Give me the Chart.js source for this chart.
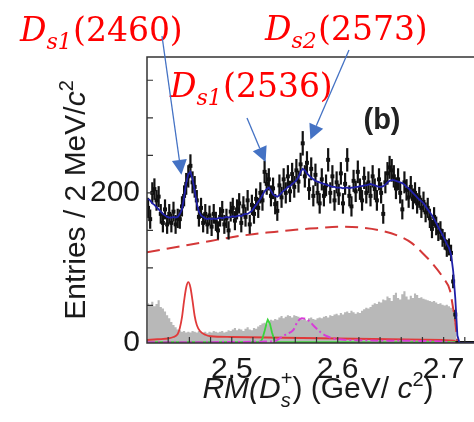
<!DOCTYPE html>
<html>
<head>
<meta charset="utf-8">
<script src="https://cdn.jsdelivr.net/npm/chart.js@4"></script>
<style>
  html, body { margin: 0; padding: 0; background: #fff; overflow: hidden; }
  canvas { display: block; }
</style>
</head>
<body>
<canvas id="myChart" width="490" height="422"></canvas>
<script>
// recoil mass spectrum, 2 MeV bins from 2.42 GeV
const binWidth = 0.002;
const xMin = 2.42;
const xMax = 2.74;

const counts = [
  180,165,200,205,190,195,172,160,178,158,
  172,160,175,158,166,165,182,196,212,222,
  236,214,208,190,168,180,160,172,158,170,
  155,172,162,150,168,176,158,166,150,175,
  180,163,178,186,160,182,168,190,158,184,
  172,192,180,200,190,228,212,218,196,206,
  185,176,210,194,218,200,222,202,225,208,
  230,215,238,266,222,240,205,232,196,224,
  200,186,218,196,210,244,200,222,190,214,
  198,226,186,212,244,196,182,216,202,228,
  205,190,220,200,214,196,222,205,190,218,
  200,172,214,226,234,230,222,206,218,200,
  178,214,204,194,208,192,200,186,194,180,
  188,174,180,166,152,168,156,148,150,140,
  136,126,128,120,82,38,0,
  0,0,0,0,0,0,0,0,0,0,0,0,0
];

// total fit
const fitTotal = [
  192,190,186,184,181,178,175,172,170,168,
  167,167,168,167,168,172,178,194,213,225,
  228,218,203,186,175,170,168,166,165,166,
  165,166,165,166,167,166,167,168,167,168,
  169,168,169,170,169,171,172,172,174,176,
  180,184,188,192,197,202,205,207,203,198,
  196,195,197,200,203,205,208,209,212,214,
  217,221,228,232,230,226,223,220,218,216,
  215,214,213,212,211,210,209,208,208,207,
  207,207,206,207,207,206,207,207,208,208,
  209,209,210,210,211,212,211,210,209,208,
  208,209,211,214,216,217,217,216,215,214,
  213,211,208,206,203,200,197,194,191,189,
  186,182,178,174,170,165,160,154,149,144,
  138,132,127,118,96,60,10,
  0,0,0,0,0,0,0,0,0,0,0,0,0
];

// grey histogram (wrong-sign / sideband events)
const sideband = [
  53,50,55,49,52,57,48,46,42,37,
  33,28,24,21,18,17,15,16,14,15,
  14,16,15,14,16,15,14,15,13,15,
  14,16,15,14,15,16,14,15,17,16,
  18,20,17,19,18,16,19,21,18,17,
  20,19,22,24,26,27,25,29,31,30,
  32,31,34,36,33,35,37,36,34,37,
  36,35,33,31,32,30,33,34,32,31,
  33,34,33,35,36,34,37,36,38,39,
  37,40,38,41,42,40,43,41,39,41,
  40,43,45,47,46,48,51,53,52,55,
  54,58,57,62,60,56,64,67,60,58,
  65,69,62,58,63,60,66,64,60,61,
  59,58,57,56,55,56,54,52,53,51,
  50,51,49,47,44,27,4,
  0,0,0,0,0,0,0,0,0,0,0,0,0
];

// smooth fit components
const bkgMass  = [2.42, 2.44, 2.46, 2.48, 2.50, 2.52, 2.54, 2.56, 2.58, 2.60, 2.62, 2.64, 2.66, 2.67, 2.68, 2.69, 2.70, 2.706, 2.709, 2.711, 2.7125, 2.713, 2.74];
const bkgFit   = [121, 126, 131, 136, 141, 145, 148, 151, 153, 155, 154, 150, 141, 133, 120, 105, 86, 70, 46, 28, 8, 0, 0];

const ds2460Mass = [2.42, 2.43, 2.44, 2.445, 2.449, 2.451, 2.453, 2.455, 2.457, 2.459, 2.461, 2.463, 2.465, 2.467, 2.470, 2.475, 2.48, 2.50, 2.55, 2.60, 2.65, 2.70, 2.710, 2.713, 2.74];
const ds2460Fit  = [4, 5, 6, 8, 12, 20, 34, 56, 74, 81, 74, 56, 36, 24, 16, 11, 9, 8, 7, 6, 5, 4, 3, 0, 0];

const ds2536Mass = [2.42, 2.527, 2.529, 2.531, 2.533, 2.534, 2.536, 2.538, 2.540, 2.542, 2.74];
const ds2536Fit  = [1, 1, 6, 16, 27, 31, 26, 14, 5, 1, 1];

const ds2573Mass = [2.42, 2.54, 2.546, 2.552, 2.558, 2.562, 2.566, 2.570, 2.574, 2.578, 2.584, 2.590, 2.596, 2.61, 2.65, 2.70, 2.712, 2.74];
const ds2573Fit  = [1, 2, 7, 12, 17, 28, 33, 32, 28, 22, 14, 9, 6, 4, 3, 2, 0, 0];

const xTickLabels = [2.5, 2.6, 2.7];
const yTickLabels = [0, 200];

const binCenters = counts.map((_, i) => +(xMin + binWidth * (i + 0.5)).toFixed(4));
const pairs = (xs, ys) => ys.map((y, i) => ({ x: xs[i], y: y }));

const sans = '"Liberation Sans", Arial, sans-serif';
const serif = '"DejaVu Serif", serif';

// draws text made of several pieces (sub/superscripts)
function drawRuns(ctx, x, y, runs, color) {
  ctx.fillStyle = color;
  ctx.textBaseline = 'alphabetic';
  ctx.textAlign = 'left';
  let cx = x;
  runs.forEach(r => {
    if (r.stack) {
      let w = 0;
      r.stack.forEach(s => {
        ctx.font = s.font;
        ctx.fillText(s.text, cx + (s.dx || 0), y + (s.dy || 0));
        w = Math.max(w, ctx.measureText(s.text).width + (s.dx || 0));
      });
      cx += w;
    } else {
      ctx.font = r.font;
      ctx.fillText(r.text, cx, y + (r.dy || 0));
      cx += ctx.measureText(r.text).width;
    }
  });
  return cx - x;
}
function runsWidth(ctx, runs) {
  let w = 0;
  runs.forEach(r => {
    if (r.stack) {
      w += Math.max(...r.stack.map(s => { ctx.font = s.font; return ctx.measureText(s.text).width + (s.dx || 0); }));
    } else { ctx.font = r.font; w += ctx.measureText(r.text).width; }
  });
  return w;
}

function arrow(ctx, x0, y0, x1, y1) {
  const ang = Math.atan2(y1 - y0, x1 - x0);
  const len = 15, half = 7.5;
  const bx = x1 - len * Math.cos(ang), by = y1 - len * Math.sin(ang);
  ctx.strokeStyle = '#4472c4';
  ctx.fillStyle = '#4472c4';
  ctx.lineWidth = 1.3;
  ctx.beginPath();
  ctx.moveTo(x0, y0);
  ctx.lineTo(bx, by);
  ctx.stroke();
  ctx.beginPath();
  ctx.moveTo(x1, y1);
  ctx.lineTo(bx + half * Math.sin(ang), by - half * Math.cos(ang));
  ctx.lineTo(bx - half * Math.sin(ang), by + half * Math.cos(ang));
  ctx.closePath();
  ctx.fill();
}

const decorations = {
  id: 'decorations',
  afterDatasetDraw(chart, args) {
    if (args.meta.label !== 'Data') return;
    const ctx = chart.ctx;
    const ys = chart.scales.y;
    ctx.save();
    ctx.strokeStyle = '#111';
    ctx.lineWidth = 2.2;
    args.meta.data.forEach((pt, i) => {
      const n = counts[i];
      if (n <= 0) return;
      const e = Math.sqrt(n);
      ctx.beginPath();
      ctx.moveTo(pt.x, ys.getPixelForValue(n - e));
      ctx.lineTo(pt.x, ys.getPixelForValue(n + e));
      ctx.stroke();
    });
    ctx.restore();
  },
  afterDraw(chart) {
    const ctx = chart.ctx;
    const { left, right, top, bottom } = chart.chartArea;
    const xs = chart.scales.x, ys = chart.scales.y;
    ctx.save();

    // frame and inward ticks
    ctx.strokeStyle = '#333';
    ctx.lineWidth = 1.5;
    ctx.strokeRect(left, top, right - left, bottom - top);
    ctx.lineWidth = 1.2;
    ctx.beginPath();
    for (let v = 50; v < ys.max; v += 50) {
      const py = ys.getPixelForValue(v);
      ctx.moveTo(left, py); ctx.lineTo(left + 6, py);
    }
    for (let k = 1; xMin + 0.02 * k < xMax; k++) {
      const px = xs.getPixelForValue(xMin + 0.02 * k);
      ctx.moveTo(px, bottom); ctx.lineTo(px, bottom - 6);
    }
    ctx.stroke();

    // axis titles
    const big = '30px ' + sans, bigIt = 'italic 30px ' + sans, small = '20px ' + sans, smallIt = 'italic 20px ' + sans;
    const xTitle = [
      { text: 'RM(D', font: bigIt },
      { stack: [{ text: '+', font: small, dy: -13 }, { text: 's', font: smallIt, dy: 9 }] },
      { text: ') (GeV/ ', font: big },
      { text: 'c', font: bigIt },
      { text: '2', font: small, dy: -12 },
      { text: ')', font: big }
    ];
    const wx = runsWidth(ctx, xTitle);
    drawRuns(ctx, 318 - wx / 2, 398, xTitle, '#1a1a1a');

    const yTitle = [
      { text: 'Entries / 2 MeV/', font: big },
      { text: 'c', font: bigIt },
      { text: '2', font: small, dy: -12 }
    ];
    const wy = runsWidth(ctx, yTitle);
    ctx.save();
    ctx.translate(85, 200);
    ctx.rotate(-Math.PI / 2);
    drawRuns(ctx, -wy / 2, 0, yTitle, '#1a1a1a');
    ctx.restore();

    // panel tag
    ctx.font = 'bold 29px ' + sans;
    ctx.fillStyle = '#222';
    ctx.textAlign = 'center';
    ctx.textBaseline = 'alphabetic';
    ctx.fillText('(b)', 382, 129);

    // state labels and arrows
    const lab = (x, y, sub, mass) => drawRuns(ctx, x, y, [
      { text: 'D', font: 'italic 33px ' + serif },
      { text: sub, font: 'italic 22px ' + serif, dy: 8, },
      { text: ' ', font: '4px ' + serif },
      { text: '(' + mass + ')', font: '33px ' + serif }
    ], '#ff0000');
    lab(20, 41, 's1', '2460');
    lab(170, 97, 's1', '2536');
    lab(265, 40, 's2', '2573');

    arrow(ctx, 162, 36, xs.getPixelForValue(2.4525), ys.getPixelForValue(224));
    arrow(ctx, 247, 118, xs.getPixelForValue(2.5319), ys.getPixelForValue(241));
    arrow(ctx, 349, 50, xs.getPixelForValue(2.5742), ys.getPixelForValue(271));
    ctx.restore();
  }
};

const lineBase = { pointRadius: 0, fill: false, parsing: true };

new Chart(document.getElementById('myChart'), {
  type: 'line',
  data: {
    datasets: [
      { ...lineBase, label: 'Total fit', order: 0, data: pairs(binCenters, fitTotal),
        borderColor: '#2020a8', borderWidth: 1.8 },
      { label: 'Data', order: 1, data: pairs(binCenters, counts), showLine: false,
        pointStyle: 'rect', pointRadius: 2.8, pointBackgroundColor: '#111', pointBorderWidth: 0 },
      { ...lineBase, label: 'Ds2(2573)', order: 2, data: pairs(ds2573Mass, ds2573Fit),
        borderColor: '#d83cd8', borderWidth: 2, borderDash: [8, 3, 2, 3], cubicInterpolationMode: 'monotone' },
      { ...lineBase, label: 'Ds1(2536)', order: 3, data: pairs(ds2536Mass, ds2536Fit),
        borderColor: '#3ad43a', borderWidth: 1.8 },
      { ...lineBase, label: 'Ds1(2460)', order: 4, data: pairs(ds2460Mass, ds2460Fit),
        borderColor: '#e03a3a', borderWidth: 1.8, cubicInterpolationMode: 'monotone' },
      { ...lineBase, label: 'Background', order: 5, data: pairs(bkgMass, bkgFit),
        borderColor: '#d43838', borderWidth: 2, borderDash: [13, 7], cubicInterpolationMode: 'monotone' },
      { label: 'Sideband', order: 6, data: pairs(binCenters, sideband), stepped: 'middle',
        pointRadius: 0, borderWidth: 0, fill: 'origin', backgroundColor: '#b8b8b8' }
    ]
  },
  options: {
    responsive: false,
    animation: false,
    events: [],
    layout: { padding: { left: 0, top: 57, right: 4, bottom: 0 } },
    plugins: { legend: { display: false }, tooltip: { enabled: false } },
    scales: {
      x: {
        type: 'linear', min: xMin, max: xMax,
        grid: { display: false, drawTicks: false },
        border: { display: false },
        afterBuildTicks: s => { s.ticks = xTickLabels.map(v => ({ value: v })); },
        afterFit: s => { s.height = 79; },
        ticks: { padding: 9, color: '#1a1a1a', font: { family: sans, size: 30 }, maxRotation: 0,
          callback: v => v.toFixed(1) }
      },
      y: {
        min: 0, max: 381,
        grid: { display: false, drawTicks: false },
        border: { display: false },
        afterBuildTicks: s => { s.ticks = yTickLabels.map(v => ({ value: v })); },
        afterFit: s => { s.width = 147; },
        ticks: { padding: 7, color: '#1a1a1a', font: { family: sans, size: 30 } }
      }
    }
  },
  plugins: [decorations]
});
</script>
</body>
</html>
